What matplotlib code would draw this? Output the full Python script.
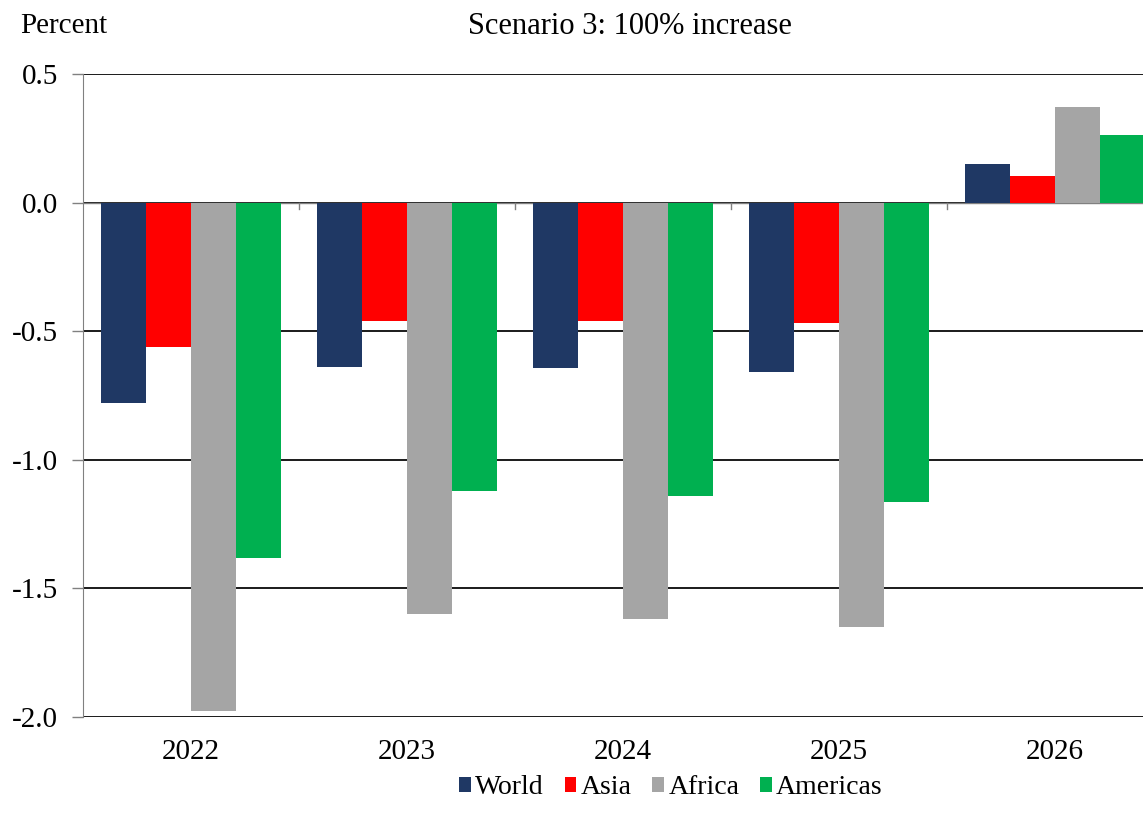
import numpy as np
import matplotlib.pyplot as plt

plt.rcParams['font.family'] = ['Liberation Serif', 'DejaVu Serif']

years = ['2022', '2023', '2024', '2025', '2026']
world = [-0.78, -0.64, -0.645, -0.66, 0.15]
asia = [-0.56, -0.46, -0.46, -0.47, 0.105]
africa = [-1.975, -1.60, -1.62, -1.65, 0.373]
americas = [-1.38, -1.12, -1.14, -1.165, 0.264]

series = [('World', world, '#1F3864'),
          ('Asia', asia, '#FF0000'),
          ('Africa', africa, '#A5A5A5'),
          ('Americas', americas, '#00B050')]

fs = 21

fig = plt.figure(figsize=(11.43, 8.26), dpi=100)
ax = fig.add_axes([83 / 1143, 1 - 717 / 826, 1080 / 1143, (717 - 74) / 826])

x = np.arange(len(years))
w = 0.2083
for i, (name, vals, col) in enumerate(series):
    ax.bar(x + (i - 1.5) * w, vals, w, color=col, label=name, zorder=3)

ax.set_ylim(-2.0, 0.5)
ax.set_xlim(-0.5, len(years) - 0.5)
yt = [0.5, 0.0, -0.5, -1.0, -1.5, -2.0]
ax.set_yticks(yt)
ax.set_yticklabels(['%.1f' % v for v in yt])
ax.yaxis.grid(True, color='#1a1a1a', linewidth=1.4, zorder=0)
ax.tick_params(axis='y', labelsize=fs, length=8, width=1, color='#808080', pad=10)

# year labels centred under each group, tick marks between groups on the zero line
ax.set_xticks(x)
ax.set_xticklabels(years)
ax.tick_params(axis='x', labelsize=fs, length=0, pad=16)
for b in np.arange(0.5, len(years) - 0.5, 1.0):
    ax.plot([b, b], [0, -0.025], color='#808080', linewidth=1, clip_on=False, zorder=4)
ax.axhline(0, color='#808080', linewidth=1, zorder=2)

for s in ['top', 'right', 'bottom']:
    ax.spines[s].set_visible(False)
ax.spines['left'].set_color('#808080')

fig.text(20 / 1143, 1 - 26 / 826, 'Percent', fontsize=fs, va='center', ha='left')
fig.text(630 / 1143, 1 - 26 / 826, 'Scenario 3: 100% increase', fontsize=fs + 1,
         va='center', ha='center')

fig.legend(loc='center', bbox_to_anchor=(671 / 1143, 1 - 788 / 826), ncol=4,
           frameon=False, fontsize=20, handlelength=0.42, handleheight=0.42,
           handletextpad=0.15, columnspacing=0.75)

fig.savefig('out.png', dpi=100)
